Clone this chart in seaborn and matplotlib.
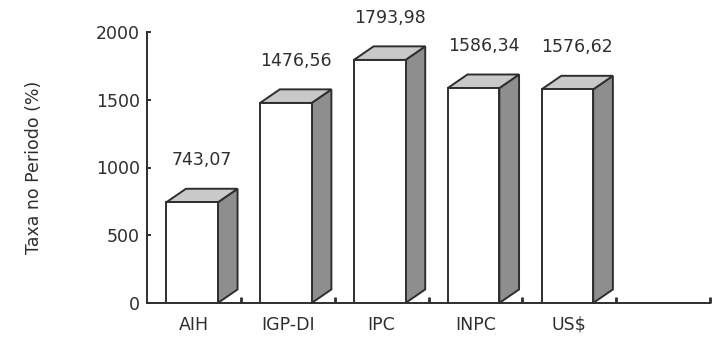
import matplotlib
matplotlib.use("Agg")
import matplotlib.pyplot as plt
from matplotlib.patches import Polygon
from matplotlib.ticker import FixedLocator
import seaborn as sns
import pandas as pd

categories = ["AIH", "IGP-DI", "IPC", "INPC", "US$"]
values = [743.07, 1476.56, 1793.98, 1586.34, 1576.62]
value_labels = ["743,07", "1476,56", "1793,98", "1586,34", "1576,62"]
y_ticks = [0, 500, 1000, 1500, 2000]

sns.set_theme(style="white")
plt.rcParams["font.family"] = ["DejaVu Sans"]

ink = "#2e2e2e"
fs = 12.5

df = pd.DataFrame({"indice": categories, "taxa": values})

fig = plt.figure(figsize=(7.12, 3.39), dpi=100)
ax = fig.add_axes([147 / 712, 1 - 303 / 339, (710 - 147) / 712, (303 - 32) / 339])

sns.barplot(data=df, x="indice", y="taxa", order=categories, color="white",
            width=0.55, edgecolor=ink, linewidth=1.4, saturation=1, ax=ax)

# pseudo-3D depth in data units
dx, dy = 0.21, 100

for bar, lab in zip(ax.patches, value_labels):
    bar.set_facecolor("white")
    bar.set_zorder(4)
    x0 = bar.get_x() - 0.02
    bar.set_x(x0)
    x1 = x0 + bar.get_width()
    h = bar.get_height()
    side = Polygon([(x1, 0), (x1 + dx, dy), (x1 + dx, h + dy), (x1, h)],
                   closed=True, facecolor="#8e8e8e", edgecolor=ink,
                   linewidth=1.4, zorder=3, clip_on=False)
    top = Polygon([(x0, h), (x1, h), (x1 + dx, h + dy), (x0 + dx, h + dy)],
                  closed=True, facecolor="#c9c9c9", edgecolor=ink,
                  linewidth=1.4, zorder=3, clip_on=False)
    ax.add_patch(side)
    ax.add_patch(top)
    ax.annotate(lab, xy=((x0 + x1 + dx) / 2, h + dy), xytext=(0, 14),
                textcoords="offset points", ha="center", va="bottom",
                fontsize=fs, color=ink, annotation_clip=False)

ax.set_xlim(-0.5, 5.5)
ax.set_ylim(0, 2000)
ax.set_yticks(y_ticks)
ax.set_yticklabels([str(t) for t in y_ticks])
ax.xaxis.set_minor_locator(FixedLocator([i + 0.5 for i in range(6)]))

ax.set_xlabel("")
ax.set_ylabel("Taxa no Periodo (%)", fontsize=fs, color=ink, labelpad=38)

for s in ["top", "right"]:
    ax.spines[s].set_visible(False)
for s in ["left", "bottom"]:
    ax.spines[s].set_color(ink)
    ax.spines[s].set_linewidth(1.4)

ax.tick_params(axis="y", which="major", direction="in", length=3, width=1.4,
               color=ink, labelsize=fs, labelcolor=ink, pad=5, left=True)
ax.tick_params(axis="x", which="major", length=0, labelsize=fs,
               labelcolor=ink, pad=9)
ax.tick_params(axis="x", which="minor", direction="in", length=4, width=2,
               color=ink, bottom=True)

fig.savefig("out.png", dpi=100)
